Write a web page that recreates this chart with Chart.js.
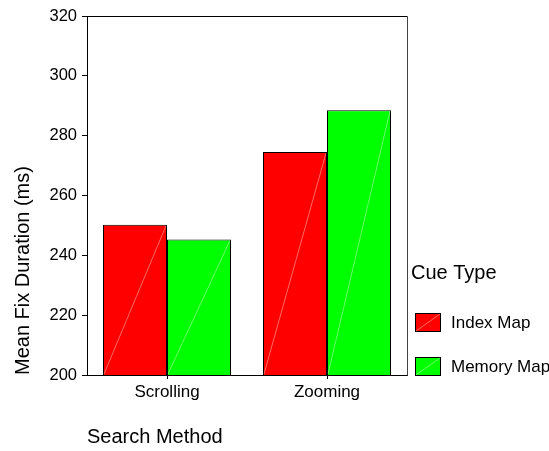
<!DOCTYPE html>
<html lang="en">
<head>
  <meta charset="UTF-8">
  <title>Mean Fix Duration</title>
  <script src="https://cdn.jsdelivr.net/npm/chart.js"></script>
  <style>
    html, body {
      margin: 0;
      padding: 0;
      background: white;
    }
    #wrap {
      width: 549px;
      height: 451px;
      position: relative;
    }
  </style>
</head>
<body>

<div id="wrap"><canvas id="fixChart" width="549" height="451"></canvas></div>

<script>
  // data
  const categories = ["Scrolling", "Zooming"];
  const indexMap = [250.2, 274.5];
  const memoryMap = [245.3, 288.5];
  const seriesNames = ["Index Map", "Memory Map"];
  const seriesColors = ["#ff0000", "#00ff00"];
  const yMin = 200, yMax = 320, yStep = 20;

  const FONT = "'Liberation Sans', Arial, sans-serif";

  // frame on top and right, plus the faint diagonal in each bar
  const framePlugin = {
    id: "frame",
    afterDatasetsDraw(chart) {
      const c = chart.ctx;
      const a = chart.chartArea;
      c.save();
      c.strokeStyle = "rgba(255,255,255,0.4)";
      c.lineWidth = 1;
      chart.data.datasets.forEach((ds, i) => {
        chart.getDatasetMeta(i).data.forEach(bar => {
          const p = bar.getProps(["x", "y", "base", "width"], true);
          const left = p.x - p.width / 2;
          const right = p.x + p.width / 2;
          const bottom = Math.min(p.base, a.bottom);
          c.beginPath();
          c.moveTo(left + 1, bottom - 1);
          c.lineTo(right - 1, p.y + 1);
          c.stroke();
        });
      });
      c.restore();
    },
    afterDraw(chart) {
      const c = chart.ctx;
      const a = chart.chartArea;
      c.save();
      c.lineWidth = 1;
      c.strokeStyle = "#000";
      c.beginPath();
      c.moveTo(Math.round(a.left) + 0.5, Math.round(a.top) + 0.5);
      c.lineTo(Math.round(a.right) + 0.5, Math.round(a.top) + 0.5);
      c.stroke();
      c.strokeStyle = "#444";
      c.beginPath();
      c.moveTo(Math.round(a.right) + 0.5, Math.round(a.top) + 0.5);
      c.lineTo(Math.round(a.right) + 0.5, Math.round(a.bottom) + 0.5);
      c.stroke();

      // legend on the right
      c.fillStyle = "#000";
      c.textBaseline = "middle";
      c.textAlign = "left";
      c.font = "20px " + FONT;
      c.fillText("Cue Type", 411, 273);
      c.font = "17px " + FONT;
      chart.data.datasets.forEach((ds, i) => {
        const y = 313 + i * 44;
        c.fillStyle = ds.backgroundColor;
        c.fillRect(415, y, 25, 18);
        c.strokeStyle = "#000";
        c.strokeRect(415.5, y + 0.5, 25, 18);
        c.strokeStyle = "rgba(255,255,255,0.4)";
        c.beginPath();
        c.moveTo(416, y + 18);
        c.lineTo(440, y + 1);
        c.stroke();
        c.fillStyle = "#000";
        c.fillText(ds.label, 451, y + 10);
      });
      c.restore();
    }
  };

  const ctx = document.getElementById("fixChart").getContext("2d");
  const fixChart = new Chart(ctx, {
    type: "bar",
    data: {
      labels: categories,
      datasets: [
        {
          label: seriesNames[0],
          data: indexMap,
          backgroundColor: seriesColors[0],
          borderColor: "#000",
          borderWidth: 1,
          borderSkipped: false
        },
        {
          label: seriesNames[1],
          data: memoryMap,
          backgroundColor: seriesColors[1],
          borderColor: "#000",
          borderWidth: 1,
          borderSkipped: false
        }
      ]
    },
    options: {
      responsive: false,
      animation: false,
      layout: {
        padding: { left: 0, right: 142, top: 16, bottom: 0 }
      },
      plugins: {
        legend: { display: false },
        tooltip: { enabled: false }
      },
      datasets: {
        bar: { categoryPercentage: 0.8, barPercentage: 1.0 }
      },
      scales: {
        x: {
          afterFit(scale) { scale.height = 76; },
          grid: {
            offset: false,
            drawOnChartArea: false,
            drawTicks: true,
            tickLength: 4,
            color: "#000"
          },
          border: { color: "#000", width: 1 },
          ticks: {
            color: "#000",
            padding: 3,
            font: { family: FONT, size: 17 }
          },
          title: {
            display: true,
            text: "Search Method",
            align: "start",
            color: "#000",
            padding: { top: 0, bottom: 2 },
            font: { family: FONT, size: 20 }
          }
        },
        y: {
          min: yMin,
          max: yMax,
          afterFit(scale) { scale.width = 87; },
          grid: {
            drawOnChartArea: false,
            drawTicks: true,
            tickLength: 5,
            color: "#000"
          },
          border: { color: "#000", width: 1 },
          ticks: {
            stepSize: yStep,
            color: "#000",
            padding: 5,
            font: { family: FONT, size: 16.5 }
          },
          title: {
            display: true,
            text: "Mean Fix Duration (ms)",
            align: "start",
            color: "#000",
            padding: { top: 11, bottom: 0 },
            font: { family: FONT, size: 20 }
          }
        }
      }
    },
    plugins: [framePlugin]
  });
</script>

</body>
</html>
